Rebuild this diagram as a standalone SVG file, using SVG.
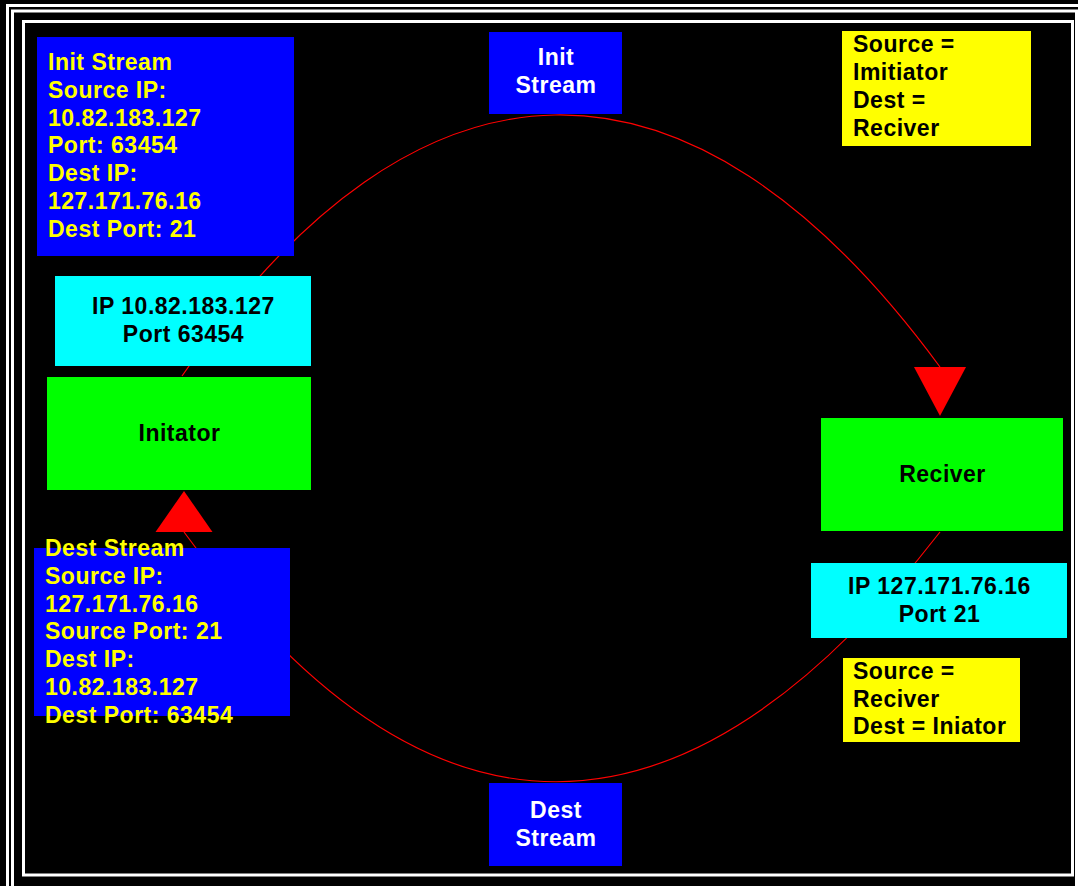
<svg xmlns="http://www.w3.org/2000/svg" width="1078" height="886" viewBox="0 0 1078 886">
<style>
.frame{fill:none;stroke:#fff;stroke-width:3}
.t{font-family:"Liberation Sans",Arial,sans-serif;font-weight:bold;font-size:23px;letter-spacing:0.5px}
.y{fill:#ff0}
.w{fill:#fff}
.k{fill:#000}
.c{text-anchor:middle}
.blue{fill:#00f}
.cyan{fill:#0ff}
.green{fill:#0f0}
.yel{fill:#ff0}
.conn{fill:none;stroke:#f00;stroke-width:1.2}
</style>
<defs>
<marker id="arrDown" markerUnits="userSpaceOnUse" markerWidth="60" markerHeight="60" refX="0" refY="0" orient="0" overflow="visible">
<path d="M-26,0 L26,0 L0,49 Z" fill="#f00"/>
</marker>
<marker id="arrUp" markerUnits="userSpaceOnUse" markerWidth="60" markerHeight="60" refX="0" refY="0" orient="0" overflow="visible">
<path d="M-28.5,0 L28.5,0 L0,-41 Z" fill="#f00"/>
</marker>
</defs>
<rect x="0" y="0" width="1078" height="886" fill="#000"/>
<g id="frame">
<rect class="frame" x="7.5" y="5.5" width="1080" height="890"/>
<rect class="frame" x="12.5" y="11" width="1064" height="890"/>
<rect class="frame" x="23.5" y="21.5" width="1049" height="853.5"/>
</g>
<g id="connectors">
<path class="conn" d="M182,376 C417,34 689,25 940,367" marker-end="url(#arrDown)"/>
<path class="conn" d="M940,532 C682,865 426,865 184,532" marker-end="url(#arrUp)"/>
</g>
<g id="init-stream-info">
<rect class="blue" x="37" y="37" width="257" height="219"/>
<text class="t y" x="48" y="70">Init Stream</text>
<text class="t y" x="48" y="97.8">Source IP:</text>
<text class="t y" x="48" y="125.6">10.82.183.127</text>
<text class="t y" x="48" y="153.4">Port: 63454</text>
<text class="t y" x="48" y="181.2">Dest IP:</text>
<text class="t y" x="48" y="209">127.171.76.16</text>
<text class="t y" x="48" y="236.8">Dest Port: 21</text>
</g>
<g id="dest-stream-info">
<rect class="blue" x="34" y="548" width="256" height="168"/>
<text class="t y" x="45" y="556">Dest Stream</text>
<text class="t y" x="45" y="583.8">Source IP:</text>
<text class="t y" x="45" y="611.6">127.171.76.16</text>
<text class="t y" x="45" y="639.4">Source Port: 21</text>
<text class="t y" x="45" y="667.2">Dest IP:</text>
<text class="t y" x="45" y="695">10.82.183.127</text>
<text class="t y" x="45" y="722.8">Dest Port: 63454</text>
</g>
<g id="init-stream-label">
<rect class="blue" x="489" y="32" width="133" height="82"/>
<text class="t w c" x="556" y="65">Init</text>
<text class="t w c" x="556" y="93">Stream</text>
</g>
<g id="dest-stream-label">
<rect class="blue" x="489" y="783" width="133" height="83"/>
<text class="t w c" x="556" y="818">Dest</text>
<text class="t w c" x="556" y="846">Stream</text>
</g>
<g id="note-init">
<rect class="yel" x="842" y="31" width="189" height="115"/>
<text class="t k" x="853" y="52">Source =</text>
<text class="t k" x="853" y="80">Imitiator</text>
<text class="t k" x="853" y="108">Dest =</text>
<text class="t k" x="853" y="136">Reciver</text>
</g>
<g id="note-dest">
<rect class="yel" x="843" y="658" width="177" height="84"/>
<text class="t k" x="853" y="679">Source =</text>
<text class="t k" x="853" y="707">Reciver</text>
<text class="t k" x="853" y="734">Dest = Iniator</text>
</g>
<g id="initiator-ip">
<rect class="cyan" x="55" y="276" width="256" height="90"/>
<text class="t k c" x="183.5" y="314">IP 10.82.183.127</text>
<text class="t k c" x="183.5" y="342">Port 63454</text>
</g>
<g id="receiver-ip">
<rect class="cyan" x="811" y="563" width="256" height="75"/>
<text class="t k c" x="939.5" y="594">IP 127.171.76.16</text>
<text class="t k c" x="939.5" y="622">Port 21</text>
</g>
<g id="initiator">
<rect class="green" x="47" y="377" width="264" height="113"/>
<text class="t k c" x="179.5" y="441">Initator</text>
</g>
<g id="receiver">
<rect class="green" x="821" y="418" width="242" height="113"/>
<text class="t k c" x="942.5" y="482">Reciver</text>
</g>
</svg>
